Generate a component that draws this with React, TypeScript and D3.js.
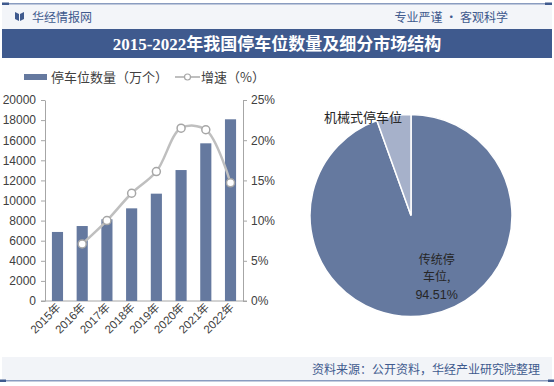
import React, { useEffect, useRef } from "react";
import * as d3 from "d3";

const years = ["2015年", "2016年", "2017年", "2018年", "2019年", "2020年", "2021年", "2022年"];
const spaces = [6870, 7460, 8130, 9220, 10680, 13030, 15690, 18080];
const growth: (number | null)[] = [null, 7.1, 10.0, 13.4, 16.1, 21.5, 21.3, 14.7];
const leftTicks = [0, 2000, 4000, 6000, 8000, 10000, 12000, 14000, 16000, 18000, 20000];
const rightTicks = [0, 5, 10, 15, 20, 25];
const pieNames = ["传统停车位", "机械式停车位"];
const pieShares = [94.51, 5.49];

const BLUE = "#3F5A8E";
const BAR = "#65799F";
const LIGHT = "#A6B1CA";
const CJK = "'Noto Sans CJK SC', 'Liberation Sans', sans-serif";
const NUM = "Arial, 'Liberation Sans', 'Noto Sans CJK SC', sans-serif";

const W = 554;
const H = 386;

export default function App() {
  const ref = useRef<SVGSVGElement>(null);

  useEffect(() => {
    const svg = d3.select(ref.current);
    svg.selectAll("*").remove();

    // header
    svg.append("rect").attr("x", 0).attr("y", 0).attr("width", W).attr("height", H).attr("fill", "#fff");
    svg.append("rect").attr("x", 2).attr("y", 4).attr("width", W - 4).attr("height", 25).attr("fill", "#F3F5F9");
    svg.append("rect").attr("x", 2).attr("y", 3).attr("width", W - 4).attr("height", 1.5).attr("fill", "#8A9CC0");
    svg.append("rect").attr("x", 2).attr("y", 2.5).attr("width", 7).attr("height", 2.5).attr("fill", BLUE);
    svg.append("rect").attr("x", W - 9).attr("y", 2.5).attr("width", 7).attr("height", 2.5).attr("fill", BLUE);
    // logo
    svg.append("path").attr("d", "M15,12 L19,14 L19,21 L15,19 Z").attr("fill", BLUE);
    svg.append("path").attr("d", "M20,14 L24,12 L24,19 L20,21 Z").attr("fill", BLUE);
    svg.append("text").attr("x", 32).attr("y", 21.5).attr("font-family", CJK).attr("font-size", 12)
      .attr("fill", BLUE).text("华经情报网");
    svg.append("text").attr("x", 508).attr("y", 21.5).attr("text-anchor", "end").attr("font-family", CJK)
      .attr("font-size", 12).attr("fill", BLUE).text("专业严谨 • 客观科学");

    svg.append("rect").attr("x", 2).attr("y", 29).attr("width", W - 4).attr("height", 29).attr("fill", BLUE);
    svg.append("text").attr("x", W / 2).attr("y", 49.5).attr("text-anchor", "middle")
      .attr("font-family", "'Liberation Serif', 'Noto Sans CJK SC', serif").attr("font-weight", "bold")
      .attr("font-size", 17).attr("fill", "#fff").text("2015-2022年我国停车位数量及细分市场结构");

    // footer
    svg.append("rect").attr("x", 2).attr("y", 357).attr("width", W - 4).attr("height", 23).attr("fill", "#F2F4F8");
    svg.append("rect").attr("x", 2).attr("y", 380).attr("width", W - 4).attr("height", 1.5).attr("fill", "#8A9CC0");
    svg.append("rect").attr("x", 0).attr("y", 379.5).attr("width", 6).attr("height", 2.5).attr("fill", BLUE);
    svg.append("rect").attr("x", W - 6).attr("y", 379.5).attr("width", 6).attr("height", 2.5).attr("fill", BLUE);
    svg.append("text").attr("x", 540).attr("y", 374).attr("text-anchor", "end").attr("font-family", CJK)
      .attr("font-size", 12).attr("fill", BLUE).text("资料来源：公开资料，华经产业研究院整理");

    // combo chart
    const x = d3.scaleBand().domain(years).range([45, 243]).paddingInner(0.55).paddingOuter(0.28);
    const yL = d3.scaleLinear().domain([0, 20000]).range([301, 100]);
    const yR = d3.scaleLinear().domain([0, 25]).range([301, 100]);

    const axL = svg.append("g").attr("transform", "translate(45,0)")
      .call(d3.axisLeft(yL).tickValues(leftTicks).tickSize(4).tickSizeOuter(0).tickPadding(5).tickFormat(d3.format("d")));
    const axR = svg.append("g").attr("transform", "translate(243,0)")
      .call(d3.axisRight(yR).tickValues(rightTicks).tickSize(4).tickSizeOuter(0).tickPadding(4).tickFormat((d) => `${d}%`));
    [axL, axR].forEach((g) => {
      g.select(".domain").attr("stroke", "#A6A6A6");
      g.selectAll(".tick line").attr("stroke", "#A6A6A6");
      g.selectAll(".tick text").attr("font-family", NUM).attr("font-size", 12).attr("fill", "#404040");
    });

    svg.append("line").attr("x1", 41).attr("x2", 247).attr("y1", 301).attr("y2", 301).attr("stroke", "#A6A6A6");

    svg.append("g").selectAll("rect").data(spaces).enter().append("rect")
      .attr("x", (d, i) => x(years[i])!)
      .attr("y", (d) => yL(d))
      .attr("width", x.bandwidth())
      .attr("height", (d) => 301 - yL(d))
      .attr("fill", BAR);

    svg.append("g").selectAll("text").data(years).enter().append("text")
      .attr("transform", (d) => `translate(${x(d)! + x.bandwidth() / 2 + 4},${308}) rotate(-45)`)
      .attr("text-anchor", "end")
      .attr("font-family", NUM).attr("font-size", 11.5).attr("fill", "#404040")
      .text((d) => d);

    const pts = growth
      .map((g, i) => ({ g, i }))
      .filter((p) => p.g !== null) as { g: number; i: number }[];
    const line = d3.line<{ g: number; i: number }>()
      .x((p) => x(years[p.i])! + x.bandwidth() / 2)
      .y((p) => yR(p.g))
      .curve(d3.curveCatmullRom.alpha(0.5));
    svg.append("path").attr("d", line(pts)).attr("fill", "none").attr("stroke", "#BFBFBF").attr("stroke-width", 2.5);
    svg.append("g").selectAll("circle").data(pts).enter().append("circle")
      .attr("cx", (p) => x(years[p.i])! + x.bandwidth() / 2)
      .attr("cy", (p) => yR(p.g))
      .attr("r", 4).attr("fill", "#fff").attr("stroke", "#A6A6A6").attr("stroke-width", 1.5);

    // legend
    svg.append("rect").attr("x", 24).attr("y", 74).attr("width", 23).attr("height", 6).attr("fill", BAR);
    svg.append("text").attr("x", 51).attr("y", 81.5).attr("font-family", CJK).attr("font-size", 13)
      .attr("fill", "#404040").text("停车位数量（万个）");
    svg.append("line").attr("x1", 175).attr("x2", 200).attr("y1", 77).attr("y2", 77)
      .attr("stroke", "#BFBFBF").attr("stroke-width", 2);
    svg.append("circle").attr("cx", 187.5).attr("cy", 77).attr("r", 3).attr("fill", "#fff")
      .attr("stroke", "#A6A6A6").attr("stroke-width", 1.2);
    svg.append("text").attr("x", 201).attr("y", 81.5).attr("font-family", CJK).attr("font-size", 13)
      .attr("fill", "#404040").text("增速（%）");

    // pie
    const cx = 411;
    const cy = 215.5;
    const r = 101;
    const pie = d3.pie<number>().sort(null).value((d) => d)(pieShares);
    const arc = d3.arc<d3.PieArcDatum<number>>().innerRadius(0).outerRadius(r);
    const pg = svg.append("g").attr("transform", `translate(${cx},${cy})`);
    pg.selectAll("path").data(pie).enter().append("path")
      .attr("d", arc)
      .attr("fill", (d, i) => (i === 0 ? BAR : LIGHT))
      .attr("stroke", "#fff").attr("stroke-width", 1.5);

    const lab = d3.arc<d3.PieArcDatum<number>>().innerRadius(62).outerRadius(62);
    const [lx, ly] = lab.centroid(pie[0]);
    const lines = ["传统停", "车位,", `${pieShares[0]}%`];
    lines.forEach((s, i) => {
      pg.append("text").attr("text-anchor", "middle")
        .attr("font-family", i === 2 ? NUM : CJK)
        .attr("font-size", i === 2 ? 12.5 : 12).attr("fill", "#262626")
        .attr("x", lx + 15).attr("y", ly - 13 + i * 17.5).text(s);
    });
    pg.append("text").attr("x", -9).attr("y", -94).attr("text-anchor", "end").attr("font-family", CJK)
      .attr("font-size", 13).attr("fill", "#262626").text(pieNames[1]);
  }, []);

  return (
    <svg ref={ref} width={W} height={H} style={{ position: "absolute", left: 0, top: 0 }} />
  );
}
